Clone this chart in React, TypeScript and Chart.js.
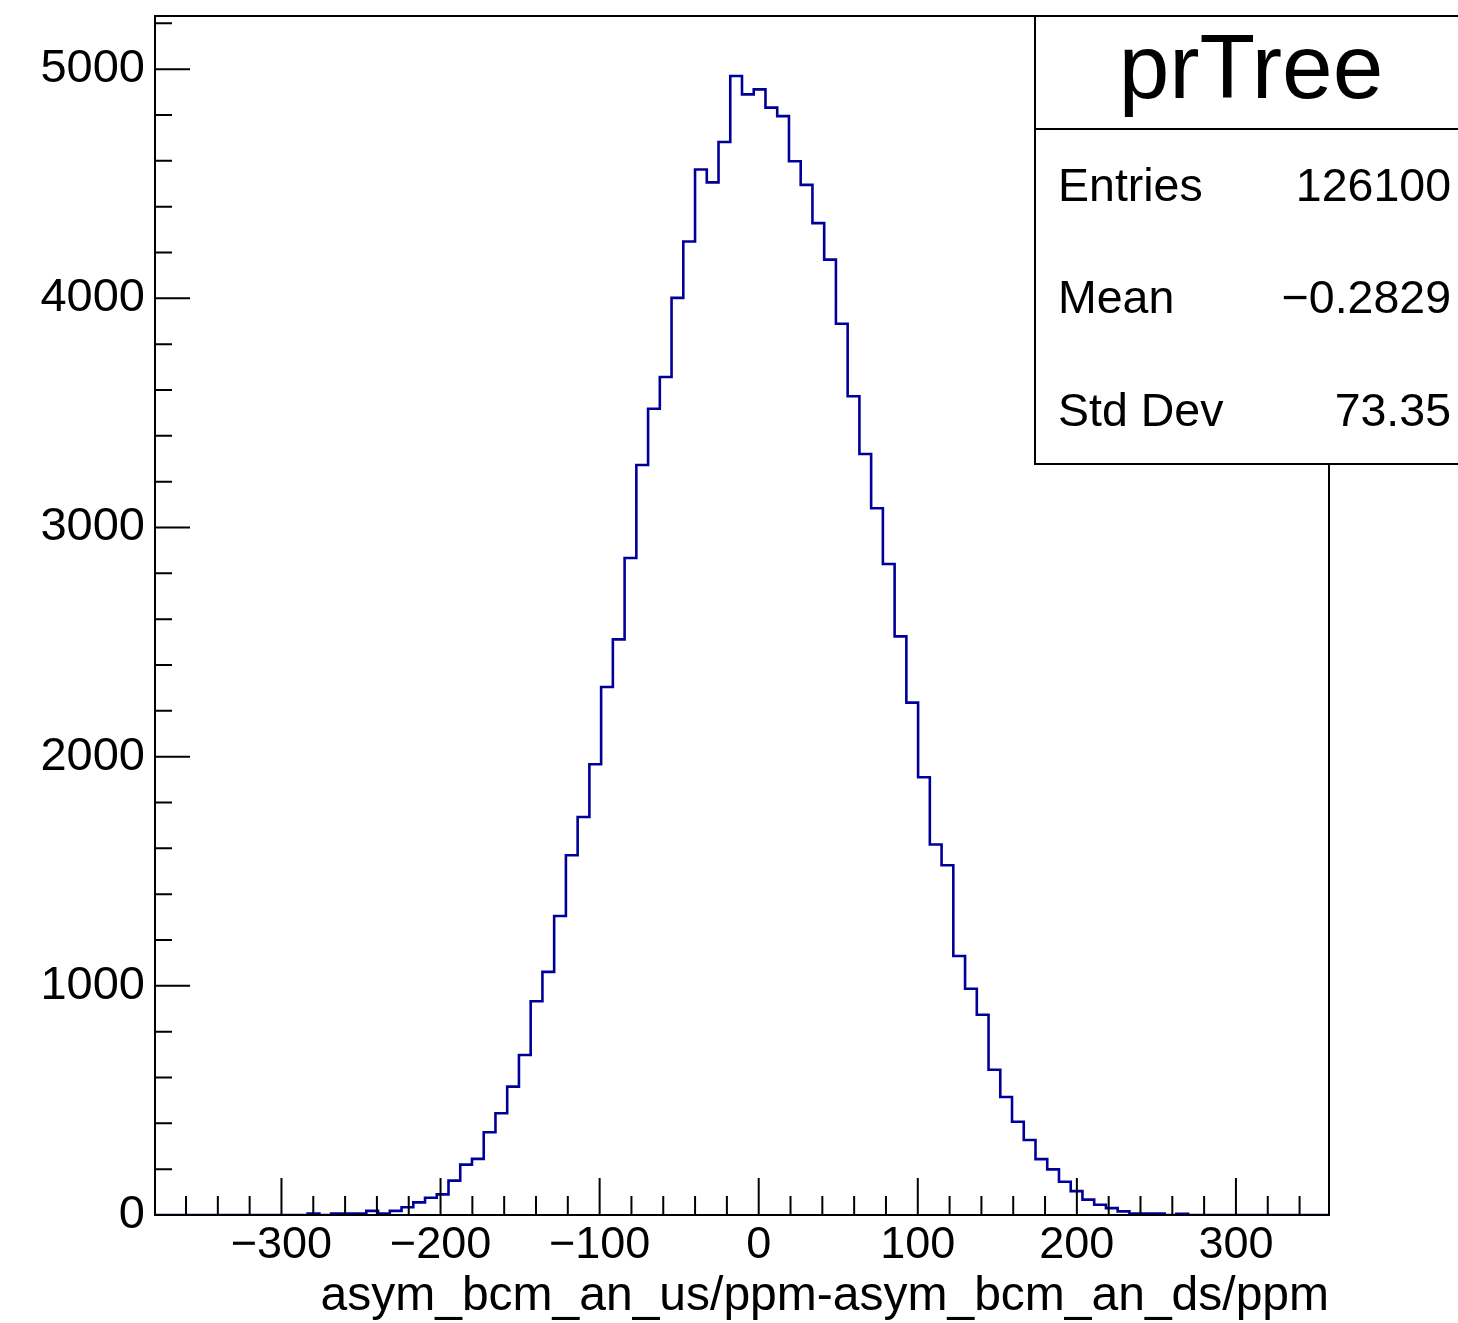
import React, { useEffect, useRef } from 'react';
import { Chart, registerables } from 'chart.js';

Chart.register(...registerables);

// ---- data ----
const X_MIN = -379.5;
const X_MAX = 358.5;
const Y_MIN = 0;
const Y_MAX = 5232;

// 100 equal-width bins between X_MIN and X_MAX
const BIN_COUNTS: number[] = [
  0, 0, 0, 0, 0, 0, 0, 0, 0, 0,
  0, 0, 0, 6, 0, 6, 6, 6, 18, 6,
  18, 34, 55, 75, 90, 150, 220, 245, 361, 444,
  560, 698, 933, 1061, 1305, 1570, 1737, 1967, 2304, 2512,
  2867, 3273, 3518, 3657, 4002, 4248, 4562, 4506, 4682, 4970,
  4890, 4912, 4832, 4795, 4598, 4495, 4328, 4169, 3889, 3573,
  3321, 3084, 2841, 2525, 2236, 1910, 1617, 1526, 1130, 987,
  874, 634, 515, 407, 327, 244, 199, 145, 104, 67,
  45, 30, 16, 6, 6, 6, 0, 5, 0, 0,
  0, 0, 0, 0, 0, 0, 0, 0, 0, 0,
];

const X_LABEL_VALUES = [-300, -200, -100, 0, 100, 200, 300];
const X_MINOR_STEP = 20;
const Y_LABEL_VALUES = [0, 1000, 2000, 3000, 4000, 5000];
const Y_MINOR_STEP = 200;

const X_TITLE = 'asym_bcm_an_us/ppm-asym_bcm_an_ds/ppm';
const STATS_TITLE = 'prTree';
const STATS_NAMES = ['Entries', 'Mean', 'Std Dev'];
const STATS_VALUES = ['126100', '\u22120.2829', '73.35'];

const FONT = '"Liberation Sans", Arial, Helvetica, sans-serif';

function tickValues(min: number, max: number, step: number): number[] {
  const out: number[] = [];
  for (let v = Math.ceil(min / step) * step; v <= max + 1e-9; v += step) out.push(Math.round(v));
  return out;
}
const X_TICKS = tickValues(X_MIN, X_MAX, X_MINOR_STEP);
const Y_TICKS = tickValues(Y_MIN, Y_MAX, Y_MINOR_STEP);

const fmt = (v: number) => (v < 0 ? '\u2212' + Math.abs(v) : String(v));

const rootFramePlugin = {
  id: 'rootFrame',
  afterDraw(chart: any) {
    const { ctx, chartArea: a } = chart;
    const xs = chart.scales.x;
    const ys = chart.scales.y;
    ctx.save();
    ctx.strokeStyle = '#000';
    ctx.lineWidth = 2;
    ctx.beginPath();
    xs.ticks.forEach((t: any) => {
      const px = xs.getPixelForValue(t.value);
      const len = X_LABEL_VALUES.includes(t.value) ? 37 : 19;
      ctx.moveTo(px, a.bottom);
      ctx.lineTo(px, a.bottom - len);
    });
    ys.ticks.forEach((t: any) => {
      const py = ys.getPixelForValue(t.value);
      const len = Y_LABEL_VALUES.includes(t.value) ? 35 : 17;
      ctx.moveTo(a.left, py);
      ctx.lineTo(a.left + len, py);
    });
    ctx.moveTo(a.left, a.top);
    ctx.lineTo(a.right, a.top);
    ctx.lineTo(a.right, a.bottom);
    ctx.stroke();

    // statistics box
    const bx = 1035;
    const by = a.top;
    const bw = chart.width - bx + 4;
    const bh = 464 - a.top;
    const divY = 129;
    ctx.fillStyle = '#fff';
    ctx.fillRect(bx, by, bw, bh);
    ctx.beginPath();
    ctx.rect(bx, by, bw, bh);
    ctx.moveTo(bx, divY);
    ctx.lineTo(bx + bw, divY);
    ctx.stroke();

    ctx.fillStyle = '#000';
    ctx.textBaseline = 'alphabetic';
    ctx.font = `91px ${FONT}`;
    ctx.textAlign = 'center';
    ctx.fillText(STATS_TITLE, 1251, 98);
    ctx.font = `46.5px ${FONT}`;
    const rows = [201, 313, 426];
    STATS_NAMES.forEach((n, i) => {
      ctx.textAlign = 'left';
      ctx.fillText(n, 1058, rows[i]);
      ctx.textAlign = 'right';
      ctx.fillText(STATS_VALUES[i], 1451, rows[i]);
    });
    ctx.restore();
  },
};

export default function App() {
  const ref = useRef<HTMLCanvasElement>(null);
  useEffect(() => {
    const canvas = ref.current;
    if (!canvas) return;
    const w = (X_MAX - X_MIN) / BIN_COUNTS.length;
    const points = BIN_COUNTS.map((c, i) => ({ x: X_MIN + i * w, y: c }));
    points.push({ x: X_MAX, y: 0 });

    const chart = new Chart(canvas, {
      type: 'line',
      data: {
        datasets: [
          {
            data: points,
            stepped: true,
            borderColor: '#000099',
            borderWidth: 2.6,
            pointRadius: 0,
            fill: false,
            tension: 0,
          },
        ],
      },
      options: {
        animation: false,
        responsive: false,
        devicePixelRatio: 1,
        layout: { padding: { left: 0, top: 16, right: 129, bottom: 0 } },
        plugins: {
          legend: { display: false },
          tooltip: { enabled: false },
          title: { display: false },
        },
        scales: {
          x: {
            type: 'linear',
            min: X_MIN,
            max: X_MAX,
            afterBuildTicks: (s: any) => {
              s.ticks = X_TICKS.map((v) => ({ value: v }));
            },
            afterFit: (s: any) => {
              s.height = 108;
              s.paddingLeft = 0;
              s.paddingRight = 0;
            },
            grid: { display: true, drawOnChartArea: false, drawTicks: false },
            border: { display: true, color: '#000', width: 2, z: 1 },
            ticks: {
              autoSkip: false,
              maxRotation: 0,
              minRotation: 0,
              padding: 4,
              color: '#000',
              font: { family: FONT, size: 45 },
              callback: (v: any) => (X_LABEL_VALUES.includes(Number(v)) ? fmt(Number(v)) : ''),
            },
            title: {
              display: true,
              text: X_TITLE,
              align: 'end',
              color: '#000',
              font: { family: FONT, size: 48, lineHeight: 1.1 },
              padding: { top: 0, bottom: 0 },
            },
          },
          y: {
            type: 'linear',
            min: Y_MIN,
            max: Y_MAX,
            afterBuildTicks: (s: any) => {
              s.ticks = Y_TICKS.map((v) => ({ value: v }));
            },
            afterFit: (s: any) => {
              s.width = 155;
              s.paddingTop = 0;
              s.paddingBottom = 0;
            },
            grid: { display: true, drawOnChartArea: false, drawTicks: false },
            border: { display: true, color: '#000', width: 2, z: 1 },
            ticks: {
              autoSkip: false,
              padding: 10,
              color: '#000',
              font: { family: FONT, size: 47 },
              callback: (v: any) => (Y_LABEL_VALUES.includes(Number(v)) ? fmt(Number(v)) : ''),
            },
          },
        },
      } as any,
      plugins: [rootFramePlugin],
    });
    return () => chart.destroy();
  }, []);

  return (
    <div style={{ position: 'absolute', left: 0, top: 0, width: 1458, height: 1323, background: '#fff' }}>
      <canvas ref={ref} width={1458} height={1323} style={{ display: 'block', width: 1458, height: 1323 }} />
    </div>
  );
}
